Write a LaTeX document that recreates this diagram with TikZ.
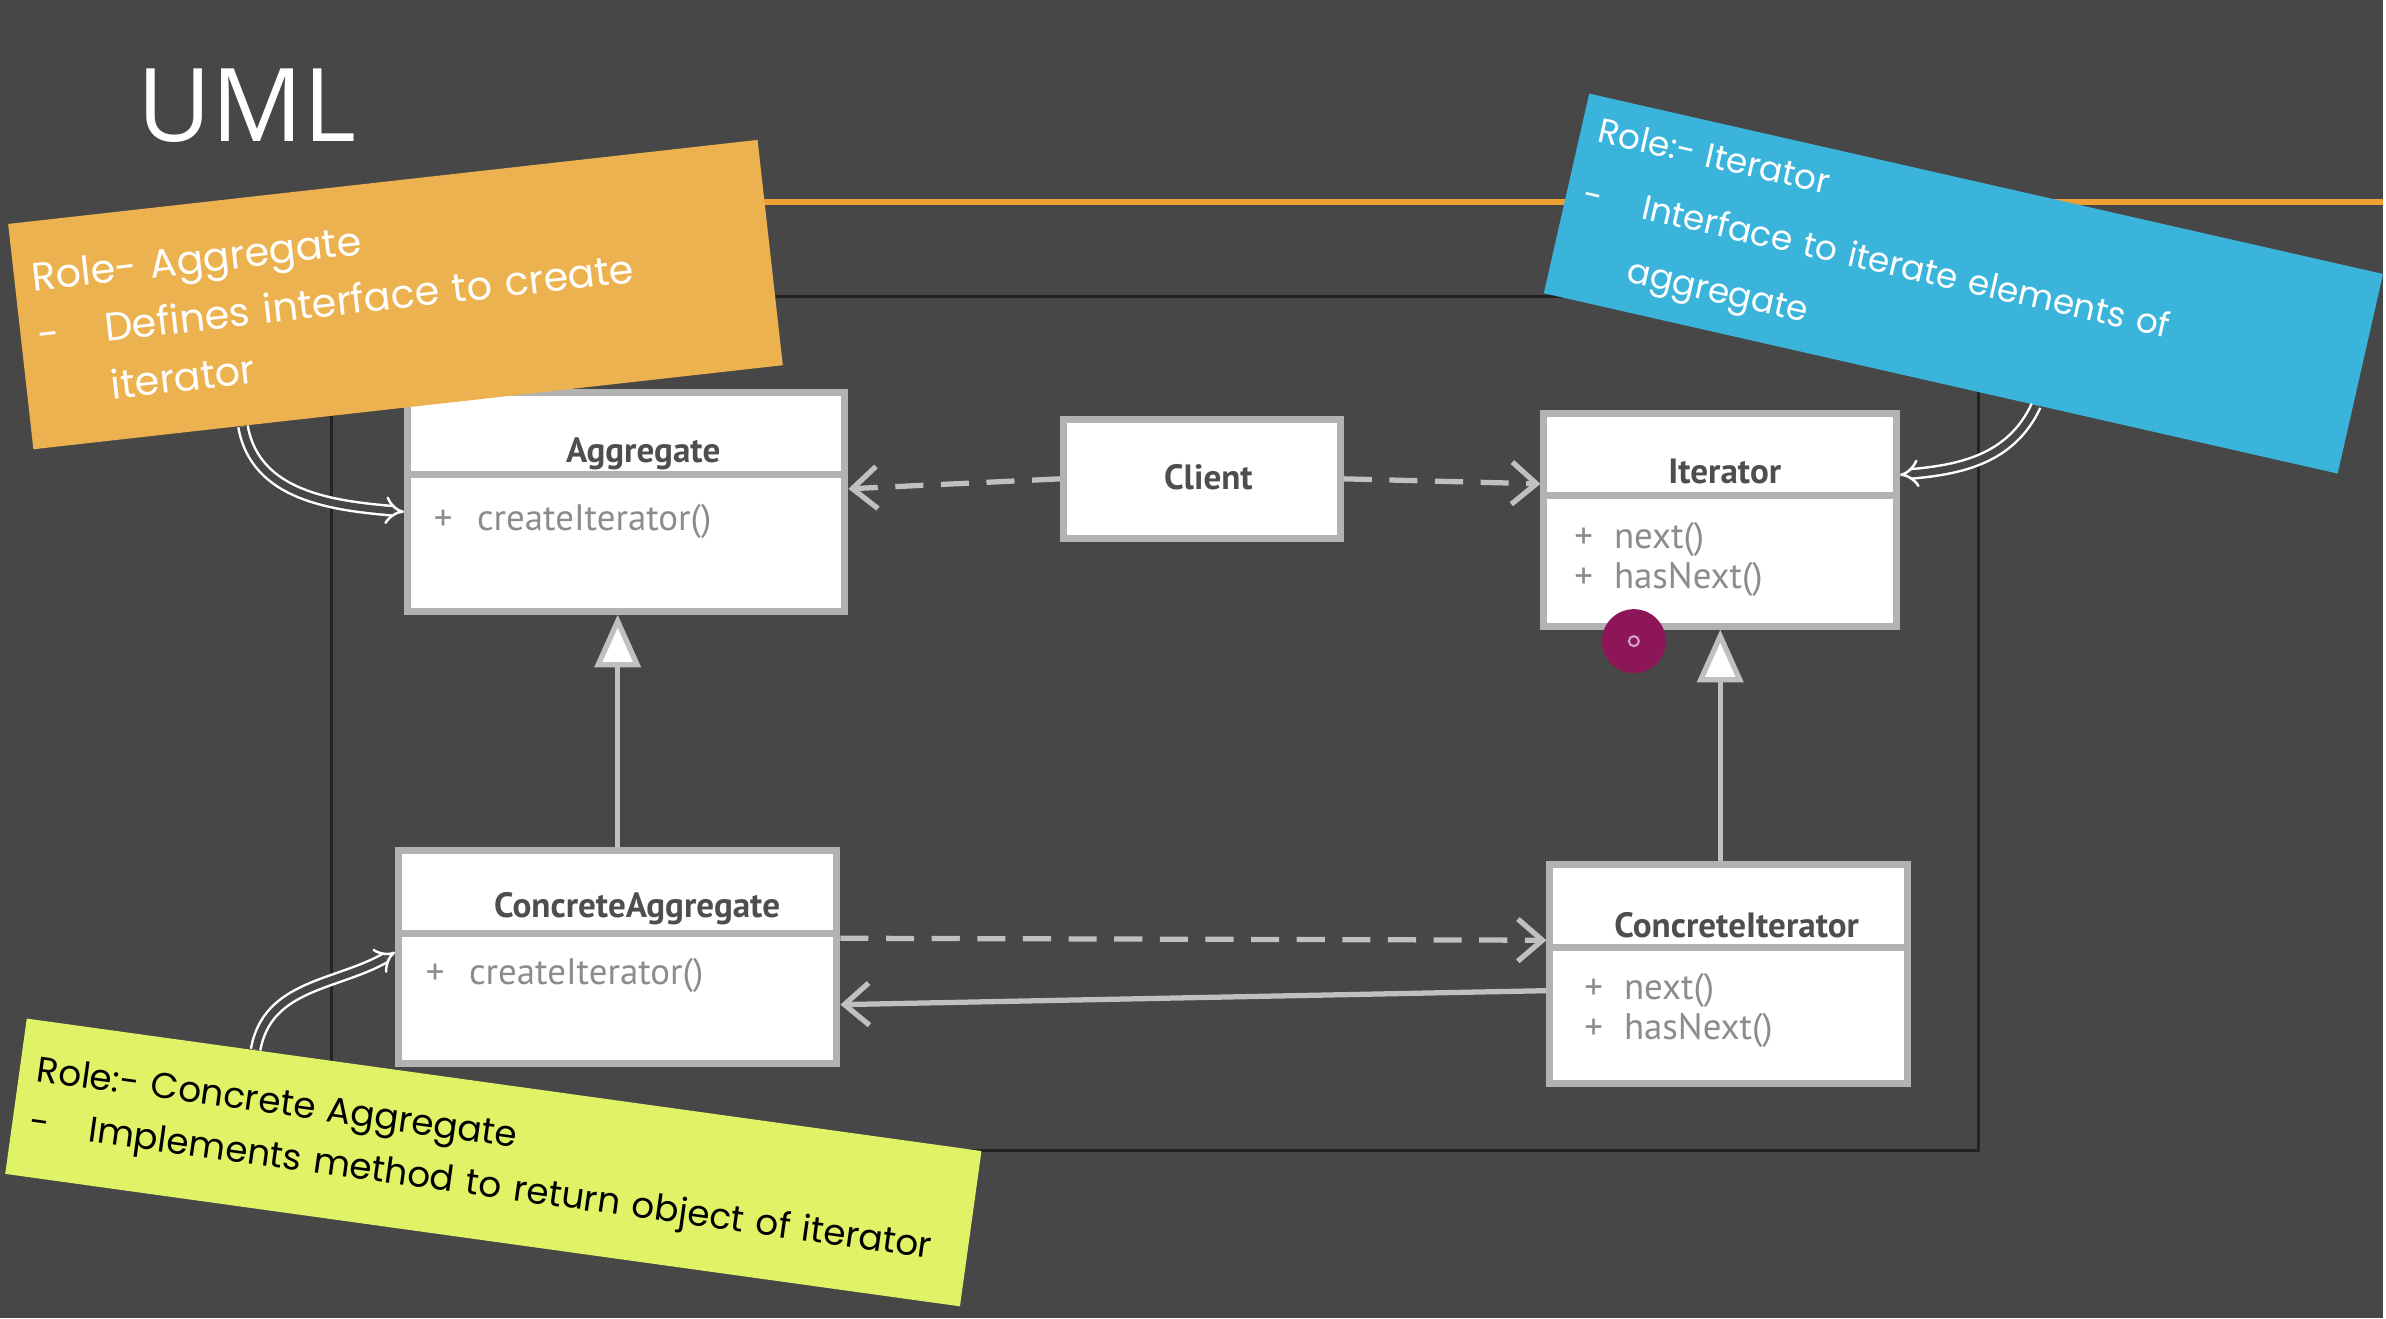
\documentclass[tikz,border=0pt]{standalone}
\usepackage{fontspec}
\setmainfont{PT Sans}
\newfontfamily\handfont{Poppins}
\newfontfamily\headfont{Open Sans}
\usetikzlibrary{arrows.meta,calc}
\definecolor{slate}{RGB}{71,71,71}
\definecolor{framegray}{RGB}{35,35,35}
\definecolor{lineorange}{RGB}{238,160,50}
\definecolor{noteorange}{RGB}{237,178,80}
\definecolor{noteblue}{RGB}{59,180,219}
\definecolor{notegreen}{RGB}{224,243,102}
\definecolor{boxedge}{RGB}{178,178,178}
\definecolor{linkgray}{RGB}{192,192,192}
\definecolor{titlegray}{RGB}{78,78,78}
\definecolor{opgray}{RGB}{140,140,140}
\definecolor{cursor}{RGB}{140,22,88}

\begin{document}
\begin{tikzpicture}[
  classbox/.style={draw=boxedge, line width=2pt, fill=white, inner sep=0pt},
  classname/.style={font=\bfseries\fontsize{10}{12}\selectfont, text=titlegray},
  op/.style={font=\fontsize{10.5}{12}\selectfont, text=opgray, anchor=west},
  link/.style={draw=linkgray, line width=1.5pt},
  depend/.style={link, dash pattern=on 8pt off 5pt, -{Straight Barb[length=7pt,width=12pt]}},
  assoc/.style={link, -{Straight Barb[length=7pt,width=12pt]}},
  inherit/.style={link, -{Triangle[open,fill=white,length=15pt,width=13pt]}},
  note/.style={inner xsep=5pt, inner ysep=3pt, align=left},
  pointer/.style={draw=white, double=slate, line width=0.7pt, double distance=2pt, -{Implies[scale=1.9]}}
]
\fill[slate] (0,0) rectangle (23.86,13.2);
\draw[framegray, line width=0.7pt] (3.32,1.68) rectangle (19.81,10.23);
\draw[lineorange, line width=1.8pt] (7.6,11.18) -- (23.86,11.18);
\node[text=white, font=\headfont\fontsize{29}{34}\selectfont] (uml) at (2.47,12.14) {UML};

\node[classbox, minimum width=4.38cm, minimum height=2.19cm] (agg) at (6.27,8.175) {};
\node[classbox, minimum width=2.77cm, minimum height=1.19cm] (client) at (12.035,8.405) {};
\node[classbox, minimum width=3.53cm, minimum height=2.13cm] (iter) at (17.225,7.995) {};
\node[classbox, minimum width=4.39cm, minimum height=2.13cm] (cagg) at (6.185,3.615) {};
\node[classbox, minimum width=3.58cm, minimum height=2.19cm] (citer) at (17.31,3.445) {};
\foreach \c in {agg,iter,cagg,citer}
  \draw[boxedge, line width=2pt] ([yshift=-0.86cm]\c.north west) -- ([yshift=-0.86cm]\c.north east);

\node[classname] (aggname) at (6.44,8.66) {Aggregate};
\node[classname] (clientname) at (12.10,8.42) {Client};
\node[classname] (itername) at (17.27,8.48) {Iterator};
\node[classname] (caggname) at (6.38,4.10) {ConcreteAggregate};
\node[classname] (citername) at (17.39,3.94) {ConcreteIterator};

\node[op] (aggop) at (4.22,7.98) {+\hspace{7pt}createIterator()};
\node[op] (iternext) at (15.64,7.80) {+\hspace{6pt}next()};
\node[op] (iterhas) at (15.64,7.40) {+\hspace{6pt}hasNext()};
\node[op] (caggop) at (4.14,3.43) {+\hspace{7pt}createIterator()};
\node[op] (citernext) at (15.74,3.28) {+\hspace{6pt}next()};
\node[op] (citerhas) at (15.74,2.88) {+\hspace{6pt}hasNext()};

\draw[depend] (client.west) -- ([yshift=0.13cm]agg.east);
\draw[depend] (client.east) -- ([yshift=0.36cm]iter.west);
\draw[inherit] (cagg.north) -- (cagg.north |- agg.south);
\draw[inherit] (iter.south |- citer.north) -- (iter.south);
\draw[depend] ([yshift=0.19cm]cagg.east) -- ([yshift=0.34cm]citer.west);
\draw[assoc] ([yshift=-0.165cm]citer.west) -- ([yshift=-0.475cm]cagg.east);

\fill[cursor] (16.36,6.78) circle (0.32);
\draw[white!60!cursor, line width=0.6pt] (16.36,6.78) circle (0.05);

\node[note, fill=noteorange, text=white, rotate=6.4, minimum width=7.55cm, minimum height=2.27cm, text width=7.2cm,
  font=\handfont\fontsize{11.3}{16.5}\selectfont] (aggnote) at (3.96,10.25)
  {Role- Aggregate\\ \makebox[19pt][l]{-}Defines interface to create\\ \hspace*{19pt}iterator};
\node[note, fill=noteblue, text=white, rotate=-12.8, minimum width=8.13cm, minimum height=2.05cm, text width=7.8cm,
  font=\handfont\fontsize{9.8}{18.5}\selectfont] (iternote) at (19.66,10.36)
  {Role:- Iterator\\ \makebox[17pt][l]{-}Interface to iterate elements of\\ \hspace*{17pt}aggregate};
\node[note, fill=notegreen, text=black, rotate=-7.9, minimum width=9.63cm, minimum height=1.57cm, text width=9.3cm,
  font=\handfont\fontsize{10.2}{15}\selectfont] (caggnote) at (4.94,1.56)
  {Role:- Concrete Aggregate\\ \makebox[17pt][l]{-}Implements method to return object of iterator};

\draw[pointer] ($(aggnote.south west)!0.28!(aggnote.south east)$) to[out=-80, in=175] ([yshift=-0.1cm]agg.west);
\draw[pointer] ($(iternote.south west)!0.62!(iternote.south east)$) to[out=-115, in=5] ([yshift=0.45cm]iter.east);
\draw[pointer] ($(caggnote.north west)!0.24!(caggnote.north east)$) to[out=80, in=210] ([yshift=0.05cm]cagg.west);
\end{tikzpicture}
\end{document}
